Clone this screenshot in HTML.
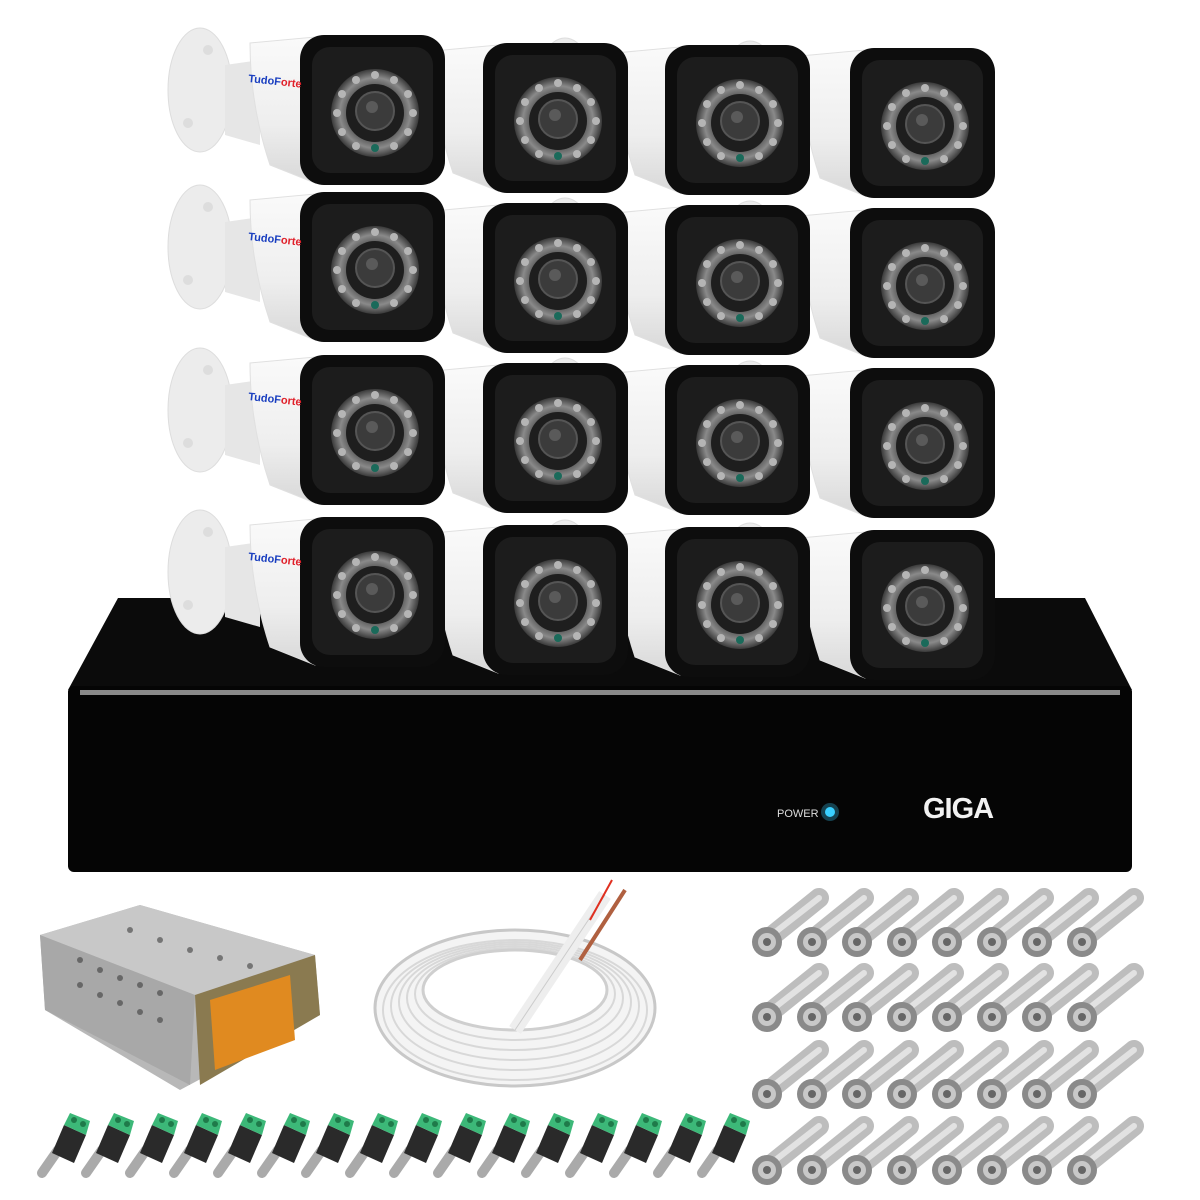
<!DOCTYPE html>
<html><head><meta charset="utf-8"><style>
html,body{margin:0;padding:0;background:#fff;width:1200px;height:1200px;overflow:hidden}
svg{display:block}
text{font-family:"Liberation Sans",sans-serif}
</style></head><body>
<svg width="1200" height="1200" viewBox="0 0 1200 1200" xmlns="http://www.w3.org/2000/svg">
<defs>
<radialGradient id="ring" cx="0.5" cy="0.5" r="0.5">
<stop offset="0.6" stop-color="#555"/><stop offset="0.8" stop-color="#8a8a8a"/><stop offset="1" stop-color="#3a3a3a"/>
</radialGradient>
<linearGradient id="bodyg" x1="0" y1="0" x2="0" y2="1">
<stop offset="0" stop-color="#fafafa"/><stop offset="0.6" stop-color="#eeeeee"/><stop offset="1" stop-color="#d8d8d8"/>
</linearGradient>
<g id="leds" fill="#b5b5b5">
<circle cx="75" cy="40" r="4"/><circle cx="94" cy="45" r="4"/><circle cx="108" cy="59" r="4"/><circle cx="113" cy="78" r="4"/><circle cx="108" cy="97" r="4"/><circle cx="94" cy="111" r="4"/>
<circle cx="56" cy="111" r="4"/><circle cx="42" cy="97" r="4"/><circle cx="37" cy="78" r="4"/><circle cx="42" cy="59" r="4"/><circle cx="56" cy="45" r="4"/>
</g>
<g id="cam">
<ellipse cx="-100" cy="55" rx="32" ry="62" fill="#ececec" stroke="#ddd"/>
<circle cx="-92" cy="15" r="5" fill="#ddd"/><circle cx="-112" cy="88" r="5" fill="#ddd"/>
<path d="M-75 30 L-40 25 L-40 110 L-75 100 Z" fill="#e6e6e6"/>
<path d="M-50 8 L15 2 L15 148 L-30 130 Q-50 70 -50 8 Z" fill="url(#bodyg)" stroke="#e0e0e0"/>
<rect x="0" y="0" width="145" height="150" rx="24" fill="#0d0d0d"/>
<rect x="12" y="12" width="121" height="126" rx="18" fill="#1c1c1c"/>
<circle cx="75" cy="78" r="44" fill="url(#ring)"/>
<use href="#leds"/>
<circle cx="75" cy="78" r="29" fill="#1e1e1e"/>
<circle cx="75" cy="76" r="19" fill="#3b3b3b" stroke="#555" stroke-width="2"/>
<circle cx="72" cy="72" r="6" fill="#5a5a5a"/>
<circle cx="75" cy="113" r="4" fill="#1a6a5a"/>
</g>
<g id="bnc">
<line x1="0" y1="0" x2="52" y2="-42" stroke="#bdbdbd" stroke-width="20" stroke-linecap="round"/>
<line x1="2" y1="-3" x2="52" y2="-42" stroke="#e2e2e2" stroke-width="6" stroke-linecap="round"/>
<circle cx="0" cy="2" r="15" fill="#8a8a8a"/>
<circle cx="0" cy="2" r="9" fill="#c8c8c8"/>
<circle cx="0" cy="2" r="4" fill="#666"/>
</g>
<g id="dc">
<line x1="-8" y1="58" x2="8" y2="35" stroke="#aaa" stroke-width="10" stroke-linecap="round"/>
<path d="M2 38 L14 10 L36 20 L24 48 Z" fill="#2a2a2a"/>
<path d="M14 10 L20 -2 L40 6 L36 20 Z" fill="#3cb878"/>
<circle cx="24" cy="5" r="3" fill="#1f7a4a"/><circle cx="33" cy="9" r="3" fill="#1f7a4a"/>
</g>
</defs>

<use href="#cam" x="850" y="48"/><use href="#cam" x="665" y="45"/><use href="#cam" x="483" y="43"/><use href="#cam" x="300" y="35"/>
<use href="#cam" x="850" y="208"/><use href="#cam" x="665" y="205"/><use href="#cam" x="483" y="203"/><use href="#cam" x="300" y="192"/>
<use href="#cam" x="850" y="368"/><use href="#cam" x="665" y="365"/><use href="#cam" x="483" y="363"/><use href="#cam" x="300" y="355"/>

<path d="M118 598 L1085 598 L1132 690 L68 690 Z" fill="#0b0b0b"/>
<rect x="68" y="686" width="1064" height="186" rx="6" fill="#050505"/>
<rect x="80" y="690" width="1040" height="5" fill="#8a8a8a"/>
<text x="777" y="817" font-size="11" fill="#ddd">POWER</text>
<circle cx="830" cy="812" r="5" fill="#3ad0ff"/><circle cx="830" cy="812" r="9" fill="#3ad0ff" opacity="0.3"/>
<text x="923" y="818" font-size="29" font-weight="bold" fill="#f2f2f2" letter-spacing="-1">GIGA</text>

<use href="#cam" x="850" y="530"/><use href="#cam" x="665" y="527"/><use href="#cam" x="483" y="525"/><use href="#cam" x="300" y="517"/>

<g font-size="11" font-weight="bold">
<text x="248" y="82" transform="rotate(6 248 82)"><tspan fill="#1a3fc0">TudoF</tspan><tspan fill="#e0202a">orte</tspan></text>
<text x="248" y="240" transform="rotate(6 248 240)"><tspan fill="#1a3fc0">TudoF</tspan><tspan fill="#e0202a">orte</tspan></text>
<text x="248" y="400" transform="rotate(6 248 400)"><tspan fill="#1a3fc0">TudoF</tspan><tspan fill="#e0202a">orte</tspan></text>
<text x="248" y="560" transform="rotate(6 248 560)"><tspan fill="#1a3fc0">TudoF</tspan><tspan fill="#e0202a">orte</tspan></text>
</g>

<path d="M40 935 L140 905 L315 955 L320 1015 L180 1090 L45 1010 Z" fill="#b8b8b8"/>
<path d="M40 935 L140 905 L315 955 L195 995 Z" fill="#c8c8c8"/>
<path d="M195 995 L315 955 L320 1015 L200 1085 Z" fill="#8a7a50"/>
<path d="M210 1000 L290 975 L295 1040 L215 1070 Z" fill="#e08a20"/>
<path d="M40 935 L195 995 L190 1085 L45 1010 Z" fill="#a8a8a8"/>
<g fill="#333" opacity="0.55">
<circle cx="80" cy="960" r="3"/><circle cx="100" cy="970" r="3"/><circle cx="120" cy="978" r="3"/><circle cx="140" cy="985" r="3"/><circle cx="160" cy="993" r="3"/>
<circle cx="80" cy="985" r="3"/><circle cx="100" cy="995" r="3"/><circle cx="120" cy="1003" r="3"/><circle cx="140" cy="1012" r="3"/><circle cx="160" cy="1020" r="3"/>
<circle cx="130" cy="930" r="3"/><circle cx="160" cy="940" r="3"/><circle cx="190" cy="950" r="3"/><circle cx="220" cy="958" r="3"/><circle cx="250" cy="966" r="3"/>
</g>

<ellipse cx="515" cy="1008" rx="140" ry="78" fill="#f4f4f4" stroke="#c8c8c8" stroke-width="3"/>
<g fill="none" stroke="#d8d8d8" stroke-width="2">
<ellipse cx="515" cy="1010" rx="132" ry="70"/><ellipse cx="515" cy="1006" rx="124" ry="64"/>
<ellipse cx="515" cy="1002" rx="116" ry="58"/><ellipse cx="515" cy="998" rx="108" ry="52"/>
<ellipse cx="515" cy="994" rx="100" ry="46"/>
</g>
<ellipse cx="515" cy="990" rx="92" ry="40" fill="#fff" stroke="#cfcfcf" stroke-width="3"/>
<line x1="515" y1="1030" x2="605" y2="895" stroke="#eee" stroke-width="14"/>
<line x1="515" y1="1030" x2="605" y2="895" stroke="#ccc" stroke-width="1"/>
<line x1="580" y1="960" x2="625" y2="890" stroke="#b06040" stroke-width="4"/>
<line x1="590" y1="920" x2="612" y2="880" stroke="#e03020" stroke-width="2"/>

<g>
<use href="#dc" x="50" y="1115"/><use href="#dc" x="94" y="1115"/><use href="#dc" x="138" y="1115"/><use href="#dc" x="182" y="1115"/>
<use href="#dc" x="226" y="1115"/><use href="#dc" x="270" y="1115"/><use href="#dc" x="314" y="1115"/><use href="#dc" x="358" y="1115"/>
<use href="#dc" x="402" y="1115"/><use href="#dc" x="446" y="1115"/><use href="#dc" x="490" y="1115"/><use href="#dc" x="534" y="1115"/>
<use href="#dc" x="578" y="1115"/><use href="#dc" x="622" y="1115"/><use href="#dc" x="666" y="1115"/><use href="#dc" x="710" y="1115"/>
</g>

<g>
<use href="#bnc" x="767" y="940"/><use href="#bnc" x="812" y="940"/><use href="#bnc" x="857" y="940"/><use href="#bnc" x="902" y="940"/><use href="#bnc" x="947" y="940"/><use href="#bnc" x="992" y="940"/><use href="#bnc" x="1037" y="940"/><use href="#bnc" x="1082" y="940"/>
<use href="#bnc" x="767" y="1015"/><use href="#bnc" x="812" y="1015"/><use href="#bnc" x="857" y="1015"/><use href="#bnc" x="902" y="1015"/><use href="#bnc" x="947" y="1015"/><use href="#bnc" x="992" y="1015"/><use href="#bnc" x="1037" y="1015"/><use href="#bnc" x="1082" y="1015"/>
<use href="#bnc" x="767" y="1092"/><use href="#bnc" x="812" y="1092"/><use href="#bnc" x="857" y="1092"/><use href="#bnc" x="902" y="1092"/><use href="#bnc" x="947" y="1092"/><use href="#bnc" x="992" y="1092"/><use href="#bnc" x="1037" y="1092"/><use href="#bnc" x="1082" y="1092"/>
<use href="#bnc" x="767" y="1168"/><use href="#bnc" x="812" y="1168"/><use href="#bnc" x="857" y="1168"/><use href="#bnc" x="902" y="1168"/><use href="#bnc" x="947" y="1168"/><use href="#bnc" x="992" y="1168"/><use href="#bnc" x="1037" y="1168"/><use href="#bnc" x="1082" y="1168"/>
</g>
</svg>
</body></html>
